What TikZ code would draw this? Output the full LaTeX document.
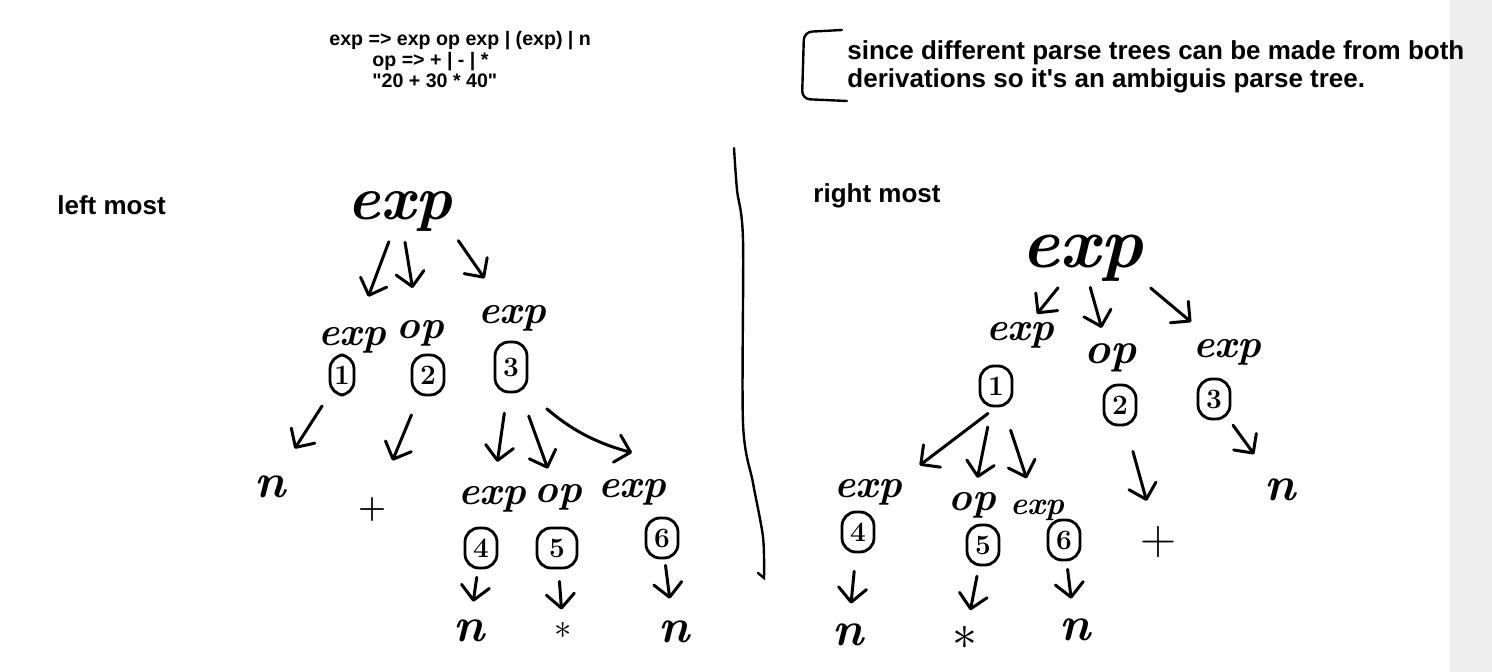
\documentclass[tikz,border=0pt]{standalone}
\usepackage{fontspec}
\newfontfamily\printfont{Liberation Sans}
\usetikzlibrary{arrows.meta}
\definecolor{sidegrey}{HTML}{EEEEEE}

\begin{document}
\begin{tikzpicture}[
        x=0.5pt, y=-0.5pt,
        typed/.style={anchor=base west, inner sep=0pt, font=\printfont\bfseries\fontsize{9.8}{10.5}\selectfont},
        notetext/.style={anchor=base west, inner sep=0pt, font=\printfont\bfseries\fontsize{13}{14}\selectfont},
        hand/.style={inner sep=0pt, font=\fontsize{20}{20}\selectfont\bfseries\itshape},
        handroot/.style={inner sep=0pt, font=\fontsize{31}{31}\selectfont\bfseries\itshape},
        leaf/.style={inner sep=0pt, font=\fontsize{24}{24}\selectfont\bfseries\itshape},
        sign/.style={inner sep=0pt, font=\fontsize{16}{16}\selectfont\bfseries},
        num/.style={draw, line width=1.4pt, rounded corners=7pt, minimum width=16pt, minimum height=20pt, inner sep=1pt, font=\fontsize{14}{14}\selectfont\bfseries},
        arr/.style={-{Straight Barb[length=7pt,width=14pt,round]}, line width=1.5pt, line cap=round, shorten <=5pt, shorten >=16pt},
        stroke/.style={line width=1.2pt, line cap=round},
        ]
        \useasboundingbox (0,0) rectangle (1492,672);
        \fill[white] (0,0) rectangle (1492,672);
        \fill[sidegrey] (1450,0) rectangle (1492,672);

        % grammar and note
        \node (gram1) at (329,46) [typed] {exp => exp op exp | (exp) | n};
        \node (gram2) at (372,67) [typed] {op => + | - | *};
        \node (gram3) at (372,88) [typed] {"20 + 30 * 40"};
        \node (note1) at (847,60) [notetext] {since different parse trees can be made from both};
        \node (note2) at (847,88) [notetext] {derivations so it\textquotesingle s an ambiguis parse tree.};
        \draw[stroke, rounded corners=4pt] (842,30) -- (804,32) -- (802,99) -- (847,101);

        \node (leftlbl) at (57,215) [notetext] {left most};
        \node (rightlbl) at (813,203) [notetext] {right most};

        % divider
        \draw[stroke] plot[smooth] coordinates {(734,148) (737,190) (743,240) (743,423) (753,483) (763,537) (764,578)} -- (758,573);

        % left most tree
        \node (lroot) at (400,212) [handroot] {exp};
        \node (la) at (352,340) [hand] {exp};
        \node (lb) at (420,333) [hand] {op};
        \node (lc) at (512,318) [hand] {exp};
        \node (ca) at (342,375) [num, minimum width=12pt] {1};
        \node (cb) at (428,375) [num] {2};
        \node (cc) at (511,367) [num, minimum height=25pt] {3};
        \node (ln1) at (270,487) [leaf] {n};
        \node (lplus) at (372,510) [sign] {+};
        \node (ld) at (492,499) [hand] {exp};
        \node (le) at (558,497) [hand] {op};
        \node (lf) at (632,492) [hand] {exp};
        \node (cd) at (481,548) [num] {4};
        \node (ce) at (557,548) [num, minimum width=20pt] {5};
        \node (cf) at (662,538) [num] {6};
        \node (lh) at (469,631) [leaf] {n};
        \node (lstar) at (563,630) [sign, font=\fontsize{18}{18}\selectfont] {$\ast$};
        \node (ln3) at (674,632) [leaf] {n};

        \draw[arr] (lroot) -- (la);
        \draw[arr] (lroot) -- (lb);
        \draw[arr] (lroot.south east) -- (lc);
        \draw[arr, shorten <=6pt] (ca) -- (ln1);
        \draw[arr, shorten <=10pt, shorten >=20pt] (cb) -- (lplus);
        \draw[arr, shorten <=10pt, shorten >=12pt] (cc) -- (ld);
        \draw[arr, shorten <=12pt, shorten >=8pt] (cc) -- (le);
        \draw[arr, shorten <=12pt, shorten >=0pt] (cc.south east) to[out=-40, in=165] ([yshift=13pt]lf.north);
        \draw[arr, shorten <=4pt, shorten >=9pt] (cd) -- (lh);
        \draw[arr, shorten <=6pt, shorten >=6pt] (ce) -- (lstar);
        \draw[arr, shorten <=3pt, shorten >=11pt] (cf) -- (ln3);

        % right most tree
        \node (rroot) at (1082,258) [handroot, font=\fontsize{36}{36}\selectfont\bfseries\itshape] {exp};
        \node (ra) at (1020,335) [hand] {exp};
        \node (rb) at (1110,358) [hand, font=\fontsize{22}{22}\selectfont\bfseries\itshape] {op};
        \node (rc) at (1227,352) [hand] {exp};
        \node (rc1) at (996,386) [num] {1};
        \node (rc2) at (1120,405) [num] {2};
        \node (rc3) at (1214,399) [num] {3};
        \node (rd) at (868,492) [hand] {exp};
        \node (re) at (972,505) [hand] {op};
        \node (rf) at (1037,510) [hand, font=\fontsize{16}{16}\selectfont\bfseries\itshape] {exp};
        \node (rc4) at (858,532) [num] {4};
        \node (rc5) at (983,545) [num] {5};
        \node (rc6) at (1064,540) [num] {6};
        \node (rplus) at (1158,542) [sign, font=\fontsize{25}{25}\selectfont] {+};
        \node (rn) at (1280,490) [leaf] {n};
        \node (rl1) at (848,635) [leaf] {n};
        \node (rl2) at (965,638) [sign, font=\fontsize{25}{25}\selectfont] {$\ast$};
        \node (rl3) at (1075,630) [leaf] {n};

        \draw[arr, shorten <=4pt, shorten >=5pt] (rroot) -- (ra);
        \draw[arr, shorten <=3pt, shorten >=8pt] (rroot) -- (rb);
        \draw[arr, shorten >=13pt] (rroot.south east) -- (rc);
        \draw[arr, shorten >=11pt] (rc1.south) -- (rd.north east);
        \draw[arr, shorten <=10pt, shorten >=7pt] (rc1) -- (re);
        \draw[arr, shorten <=12pt, shorten >=11pt] (rc1) -- (rf);
        \draw[arr, shorten <=13pt, shorten >=13pt] (rc2) -- (rplus);
        \draw[arr, shorten <=3pt, shorten >=15pt] (rc3) -- (rn);
        \draw[arr, shorten <=9pt, shorten >=10pt] (rc4) -- (rl1);
        \draw[arr, shorten <=5pt, shorten >=8pt] (rc5) -- (rl2);
        \draw[arr, shorten <=4pt, shorten >=10pt] (rc6) -- (rl3);

    \end{tikzpicture}
\end{document}
